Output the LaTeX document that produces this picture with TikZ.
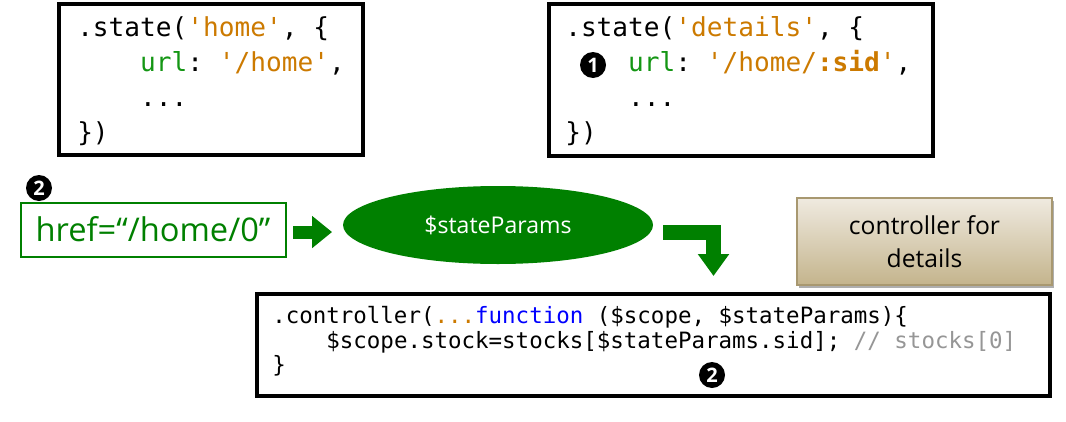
\documentclass[tikz,border=0pt]{standalone}
\usepackage{fontspec}
\setsansfont{Open Sans}
\setmonofont{DejaVu Sans Mono}
\usetikzlibrary{positioning,arrows.meta,shapes.geometric,shadows}
\definecolor{strorange}{RGB}{204,122,0}
\definecolor{keygreen}{RGB}{20,150,20}
\definecolor{dkgreen}{RGB}{0,128,0}
\definecolor{fnblue}{RGB}{0,0,255}
\definecolor{cmtgray}{RGB}{150,150,150}
\definecolor{tantop}{RGB}{239,234,224}
\definecolor{tanbot}{RGB}{196,180,140}
\definecolor{tanedge}{RGB}{168,152,112}
\newcommand{\codestr}[1]{\textcolor{strorange}{#1}}
\newcommand{\codekey}[1]{\textcolor{keygreen}{#1}}
\newcommand{\codeind}{\phantom{xxxx}}
\tikzset{
  codebox/.style={draw=black,line width=3pt,inner sep=0pt},
  codetxt/.style={anchor=west,align=left,inner sep=0pt,
    font=\ttfamily\fontsize{19.6}{26.25}\selectfont},
  ctltxt/.style={anchor=west,align=left,inner sep=0pt,
    font=\ttfamily\fontsize{16.85}{18.4}\selectfont},
  badge/.style={circle,fill=black,text=white,inner sep=0pt,minimum size=19.5pt,
    font=\sffamily\bfseries\fontsize{15}{15}\selectfont},
  hrefbox/.style={draw=dkgreen,line width=1.5pt,text=dkgreen,inner sep=0pt,
    minimum width=198.75pt,minimum height=40.5pt,font=\sffamily\fontsize{24.5}{30}\selectfont},
  parambox/.style={ellipse,fill=dkgreen,text=white,inner sep=0pt,
    minimum width=232.5pt,minimum height=58.5pt,font=\sffamily\fontsize{17.3}{20}\selectfont},
  ctrlbox/.style={draw=tanedge,line width=1pt,top color=tantop,bottom color=tanbot,
    align=center,inner sep=0pt,minimum width=191.25pt,minimum height=65.25pt,
    font=\sffamily\fontsize{18.5}{24.75}\selectfont,
    drop shadow={shadow xshift=1.5pt,shadow yshift=-2.2pt,opacity=0.45,fill=black!70}},
  fatarrow/.style={draw=dkgreen,line width=9.75pt,-{Triangle[length=15pt,width=23.25pt]}},
  bentarrow/.style={draw=dkgreen,line width=11.25pt,line join=miter,
    -{Triangle[length=16.5pt,width=22.5pt]}},
}
\begin{document}
\begin{tikzpicture}[x=0.75pt,y=-0.75pt]
  \useasboundingbox[fill=white] (0,0) rectangle (1066,421);
  % the two state definitions
  \node[codebox,minimum width=228pt,minimum height=113.25pt] (homest) at (211,79.5) {};
  \node[codetxt] (hometxt) at (77,81.5) {.state(\codestr{'home'}, \{\\
    \codeind\codekey{url}: \codestr{'/home'},\\
    \codeind...\\
    \})};
  \node[codebox,minimum width=288pt,minimum height=114pt] (detst) at (741,80) {};
  \node[codetxt] (dettxt) at (565,81.5) {.state(\codestr{'details'}, \{\\
    \codeind\codekey{url}: \codestr{'/home/\textbf{:sid}'},\\
    \codeind...\\
    \})};
  \node[badge] (bone) at (593,65) {1};
  % link -> $stateParams -> controller
  \node[hrefbox] (href) at (153,229.5) {href=“/home/0”};
  \node[badge] (btwo) at (39,188) {2};
  \node[parambox] (stp) at (498,225) {\$stateParams};
  \node[ctrlbox] (ctrl) at (924.5,241.5) {controller for\\details};
  \node[codebox,minimum width=594.75pt,minimum height=76.5pt] (ctlcode) at (653.5,345) {};
  \node[ctltxt] (ctltext) at (272,341.5) {.controller(\codestr{...}\textcolor{fnblue}{function} (\$scope, \$stateParams)\{\\
    \codeind\$scope.stock=stocks[\$stateParams.sid]; \textcolor{cmtgray}{// stocks[0]}\\
    \}};
  \node[badge] (bthree) at (712,375) {2};
  \coordinate (dn) at (713.5,276);
  \draw[fatarrow,shorten <=5pt,shorten >=8pt] ([yshift=-1.9pt]href.east) -- ([yshift=-1.9pt]href.east -| stp.west);
  \draw[bentarrow] ([shift={(7.5pt,-5.6pt)}]stp.east) -| (dn);
\end{tikzpicture}
\end{document}
